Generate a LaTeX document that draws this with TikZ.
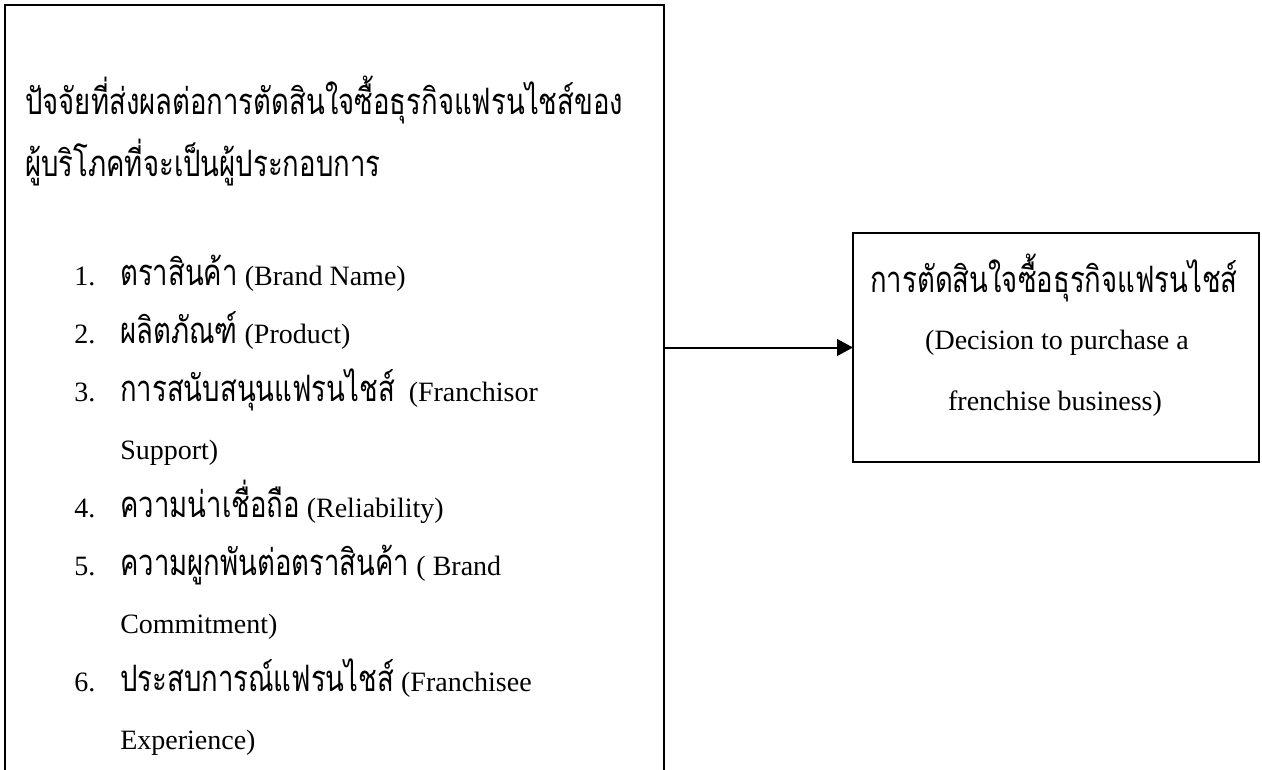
\documentclass[tikz,border=0pt]{standalone}
\usepackage{fontspec}
\setmainfont{Liberation Serif}
\newfontfamily\thai[Script=Thai,FakeStretch=0.756,Scale=1.3]{Loma}
\usetikzlibrary{arrows.meta}
\begin{document}
\begin{tikzpicture}[x=0.75pt,y=-0.75pt,
  boxline/.style={draw, line width=1.5pt, outer sep=0pt, inner sep=0pt},
  txt/.style={anchor=base west, inner sep=0pt, font=\fontsize{21}{25}\selectfont},
  ctxt/.style={anchor=base, inner sep=0pt, font=\fontsize{21}{25}\selectfont},
  arrowline/.style={line width=1.5pt, -{Triangle[length=12pt,width=12.5pt]}}]
\useasboundingbox (0,0) rectangle (1262,769);
\clip (0,0) rectangle (1262,769);
% left box (bottom edge beyond the page)
\node[boxline, anchor=north west, minimum width=494.25pt, minimum height=600pt] (leftbox) at (5,5) {};
% right box
\node[boxline, minimum width=304.5pt, minimum height=171.75pt] (rightbox) at (1056,347.5) {};
% connector
\draw[arrowline] (rightbox.west -| leftbox.east) -- (rightbox.west);
% left texts
\node[txt] (t1) at (25,114) {\thai ปัจจัยที่ส่งผลต่อการตัดสินใจซื้อธุรกิจแฟรนไชส์ของ};
\node[txt] (t2) at (25,176) {\thai ผู้บริโภคที่จะเป็นผู้ประกอบการ};
\node[txt] (n1) at (74,285) {1.};
\node[txt] (i1) at (120,285) {{\thai ตราสินค้า} (Brand Name)};
\node[txt] (n2) at (74,343) {2.};
\node[txt] (i2) at (120,343) {{\thai ผลิตภัณฑ์} (Product)};
\node[txt] (n3) at (74,401) {3.};
\node[txt] (i3) at (120,401) {{\thai การสนับสนุนแฟรนไชส์}\ \ (Franchisor};
\node[txt] (i3b) at (120,459) {Support)};
\node[txt] (n4) at (74,517) {4.};
\node[txt] (i4) at (120,517) {{\thai ความน่าเชื่อถือ} (Reliability)};
\node[txt] (n5) at (74,575) {5.};
\node[txt] (i5) at (120,575) {{\thai ความผูกพันต่อตราสินค้า} ( Brand};
\node[txt] (i5b) at (120,633) {Commitment)};
\node[txt] (n6) at (74,691) {6.};
\node[txt] (i6) at (120,691) {{\thai ประสบการณ์แฟรนไชส์} (Franchisee};
\node[txt] (i6b) at (120,749) {Experience)};
% right texts
\node[ctxt] (r1) at (1054,292) {\thai การตัดสินใจซื้อธุรกิจแฟรนไชส์};
\node[ctxt] (r2) at (1057,349) {(Decision to purchase a};
\node[ctxt] (r3) at (1055,410) {frenchise business)};
\end{tikzpicture}
\end{document}
